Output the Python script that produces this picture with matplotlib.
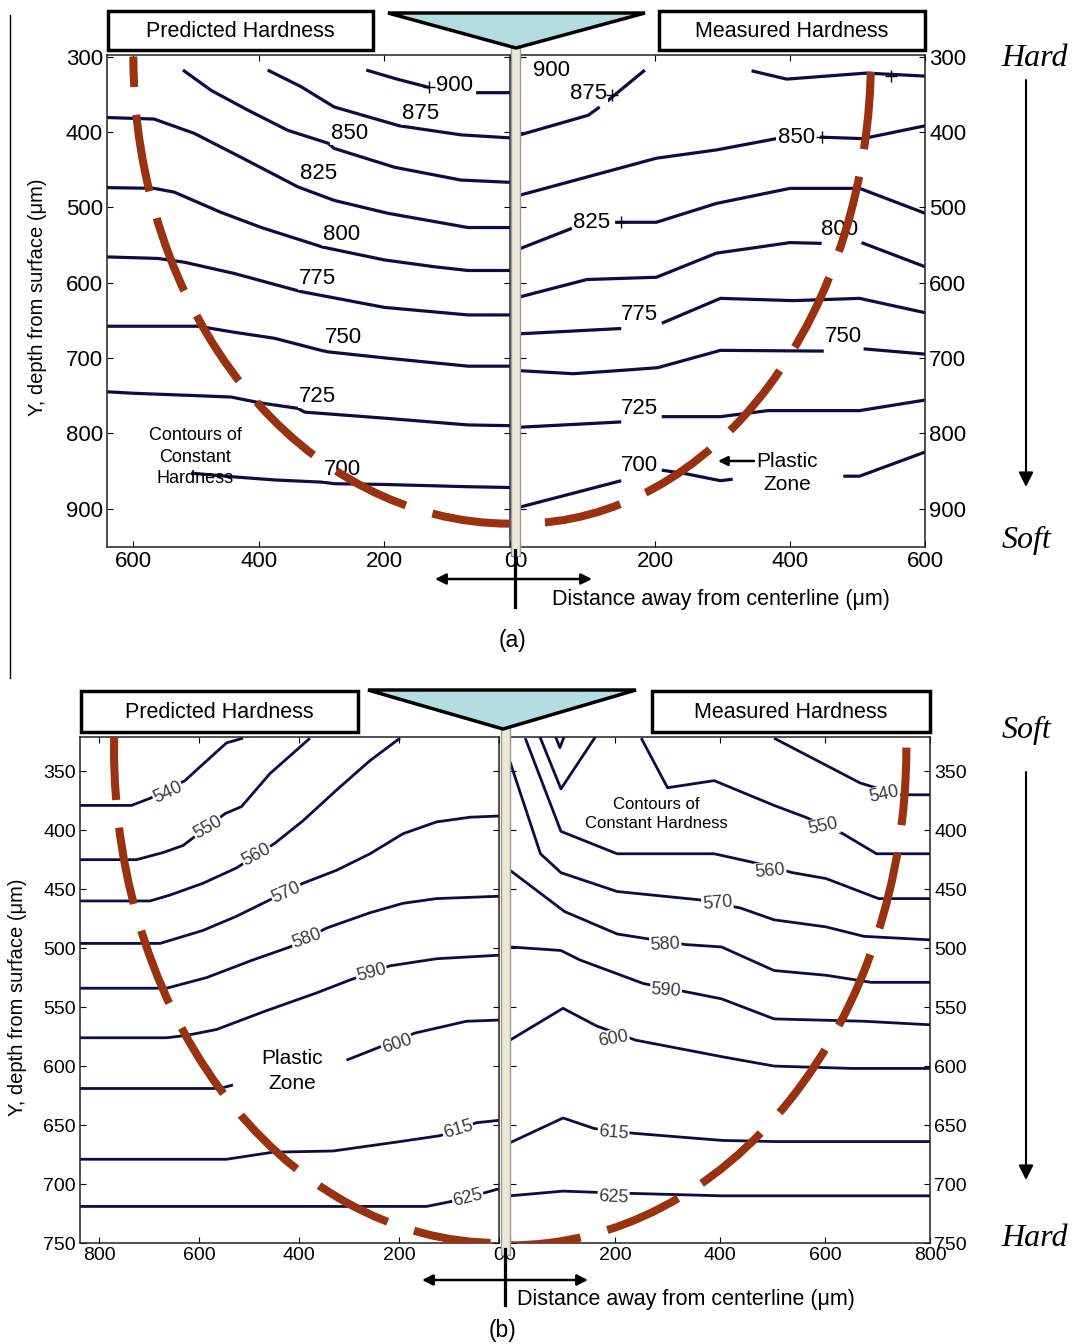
import numpy as np
import matplotlib
matplotlib.use("Agg")
import matplotlib.pyplot as plt
from matplotlib.patches import Arc, Rectangle, Polygon

plt.rcParams['font.family'] = ['Liberation Sans', 'DejaVu Sans']

nan = np.nan

# ---------------- (a) predicted hardness (left half) ----------------
a_pred_levels = [900, 875, 850, 825, 800, 775, 750, 725, 700]
a_pred_x = [
    [229, 180, 129, nan, 54, 0],
    [386, 333, 280, 176, 78, 0],
    [521, 476, 418, 354, 290, 280, 184, 78, 0],
    [642, 567, 503, 428, 338, 280, 195, 67, 0],
    [642, 567, 535, 460, 396, 298, 200, 121, 67, 0],
    [642, 561, 519, 439, 333, 200, 67, 0],
    [642, 497, 439, 375, 301, 290, 200, 67, 0],
    [642, 599, 503, 444, 396, 338, 327, 200, 67, 0],
    [508, 439, 375, 298, 280, 200, 67, 0],
]
a_pred_y = [
    [318, 330, 341, nan, 348, 348],
    [318, 340, 367, 392, 404, 408],
    [318, 345, 371, 398, 415, 422, 447, 464, 467],
    [381, 383, 402, 434, 473, 491, 508, 527, 527],
    [474, 475, 480, 507, 527, 553, 570, 579, 584, 584],
    [566, 568, 573, 588, 612, 633, 643, 643],
    [658, 658, 666, 674, 690, 692, 700, 711, 711],
    [745, 747, 750, 752, 760, 767, 772, 780, 789, 790],
    [853, 858, 862, 865, 867, 868, 871, 872],
]
a_pred_lab_x = [89, 143, 256, 305, 268, 306, 266, 306, 267]
a_pred_lab_y = [338, 375, 402, 455, 536, 594, 673, 751, 848]
a_pred_plus_x = [129]
a_pred_plus_y = [341]

# ---------------- (a) measured hardness (right half) ----------------
a_meas_levels = [900, 875, 850, 825, 800, 775, 750, 725, 700]
a_meas_x = [
    [],
    [0, 101, 118, nan, 128, 185, nan, 343, 395, 513, 600],
    [0, 99, 202, 291, 380, nan, 444, 508, 600],
    [0, 77, nan, 141, 202, 291, 400, 503, 600],
    [0, 99, 202, 291, 400, 447, nan, 506, 600],
    [0, 150, nan, 210, 297, 405, 503, 600],
    [0, 79, 144, 204, 297, 450, nan, 509, 600],
    [0, 150, nan, 210, 297, 367, 450, 503, 600],
    [0, 150, nan, 210, 247, 297, 315, nan, 479, 503, 600],
]
a_meas_y = [
    [],
    [404, 378, 367, nan, 360, 318, nan, 319, 330, 322, 326],
    [484, 460, 435, 424, 409, nan, 407, 409, 392],
    [555, 528, nan, 520, 520, 495, 475, 475, 508],
    [619, 596, 593, 561, 547, 548, nan, 547, 579],
    [668, 661, nan, 654, 621, 624, 621, 640],
    [717, 721, 717, 713, 690, 691, nan, 688, 695],
    [792, 785, nan, 778, 778, 770, 770, 770, 756],
    [898, 863, nan, 849, 854, 863, 861, nan, 857, 857, 825],
]
a_meas_lab_x = [47, 101, 409, 106, 474, 177, 479, 177, 177]
a_meas_lab_y = [318, 349, 407, 520, 530, 643, 672, 767, 843]
a_meas_plus_x = [136, 447, 150, 549]
a_meas_plus_y = [351, 407, 520, 326]

# ---------------- (b) predicted hardness (left half) ----------------
b_pred_levels = [540, 550, 560, 570, 580, 590, 600, 615, 625]
b_pred_x = [
    [838, 735, 698, 628, 605, 545, 512],
    [838, 725, 672, 632, 548, 515, 458, 378],
    [838, 698, 658, 592, 525, 448, 392, 325, 258, 198],
    [838, 678, 592, 525, 458, 392, 325, 258, 192, 125, 58, 0],
    [838, 665, 585, 492, 418, 345, 258, 192, 125, 0],
    [838, 665, 625, 565, 465, 365, 298, 218, 125, 0],
    [838, 558, 532, nan, 305, 168, 65, 0],
    [838, 545, 452, 332, 198, 118, 45, 0],
    [838, 145, 98, 25, 0],
]
b_pred_y = [
    [379, 379, 373, 358, 349, 326, 322],
    [425, 425, 419, 413, 386, 380, 352, 322],
    [460, 460, 455, 445, 432, 411, 392, 366, 341, 322],
    [496, 496, 485, 473, 459, 445, 434, 420, 403, 393, 389, 388],
    [534, 534, 525, 510, 499, 483, 470, 462, 458, 456],
    [576, 576, 574, 569, 553, 538, 527, 515, 509, 506],
    [619, 619, 616, nan, 595, 572, 562, 561],
    [679, 679, 673, 672, 664, 659, 648, 646],
    [719, 719, 715, 707, 704],
]
b_pred_lab_x = [662, 582, 485, 425, 385, 255, 204, 82, 62]
b_pred_lab_y = [368, 398, 421, 453, 492, 521, 581, 654, 712]
b_pred_lab_rot = [25, 30, 28, 24, 20, 15, 18, 16, 14]

# ---------------- (b) measured hardness (right half) ----------------
b_meas_levels = [540, 550, 560, 570, 580, 590, 600, 615, 625]
b_meas_x = [
    [503, 667, 741, 800],
    [250, 300, 389, 503, 563, 634, 698, 800],
    [29, 97, 204, 389, 460, 538, 602, 702, 800],
    [0, 58, 97, 204, 360, 439, 503, 602, 674, 800],
    [0, 104, 204, 261, 335, 403, 503, 602, 688, 800],
    [0, 97, 133, 254, 335, 403, 503, 674, 800],
    [0, 101, 165, 239, 403, 503, 652, 800],
    [0, 101, 161, 236, 403, 503, 800],
    [0, 101, 161, 236, 403, 800],
]
b_meas_y = [
    [322, 360, 370, 370],
    [322, 364, 358, 379, 389, 403, 420, 420],
    [322, 401, 420, 420, 427, 436, 441, 458, 458],
    [342, 420, 436, 452, 459, 466, 476, 482, 490, 493],
    [434, 469, 488, 492, 497, 499, 519, 523, 529, 529],
    [499, 502, 510, 530, 537, 543, 560, 562, 565],
    [578, 551, 566, 578, 592, 600, 602, 602],
    [665, 644, 653, 657, 663, 664, 664],
    [710, 706, 707, 708, 710, 710],
]
b_meas_lab_x = [712, 597, 496, 395, 296, 297, 197, 197, 197]
b_meas_lab_y = [370, 397, 435, 462, 497, 536, 577, 657, 711]
b_meas_lab_rot = [12, 12, 5, 5, 3, -4, 10, -5, -3]
# closed little loops near the top of the measured field
b_meas_extra_x = [[58, 97, 161], [88, 95, 102]]
b_meas_extra_y = [[322, 365, 322], [322, 330, 322]]

# plastic zone boundaries (centre depth, half-width, half-height)
zone_a_yc, zone_a_pred, zone_a_meas = 300, (600, 620), (520, 620)
zone_b_yc, zone_b_pred, zone_b_meas = 330, (770, 420), (755, 422)

NAVY = '#0c0c48'
RED = '#983211'
ZONE_LW = 5.8
W, H = 1073, 1344

fig = plt.figure(figsize=(W / 100, H / 100), dpi=100)


def px_axes(x0, y0, x1, y1):
    return fig.add_axes([x0 / W, 1 - y1 / H, (x1 - x0) / W, (y1 - y0) / H])


def style(ax, fs, right=False):
    ax.tick_params(direction='in', length=4, width=0.8, top=True, bottom=True,
                   left=True, right=True, labelsize=fs, pad=3)
    if right:
        ax.tick_params(labelleft=False, labelright=True)
    for s in ax.spines.values():
        s.set_linewidth(1.1)
        s.set_color('#222222')


def draw_field(ax, xs, ys, levels, lx, ly, rot, lw, fs, tcol):
    for x, y in zip(xs, ys):
        if len(x):
            ax.plot(np.array(x, float), np.array(y, float), color=NAVY, lw=lw,
                    solid_capstyle='butt', zorder=2)
    for lev, x, y, r in zip(levels, lx, ly, rot):
        ax.text(x, y, str(lev), fontsize=fs, color=tcol, rotation=r,
                ha='center', va='center', rotation_mode='anchor', zorder=3,
                bbox=dict(boxstyle='square,pad=0.05', fc='white', ec='none'))


def zone(ax, yc, r, theta1, offset_pt, on_pt, off_pt):
    pat = (offset_pt / ZONE_LW, (on_pt / ZONE_LW, off_pt / ZONE_LW))
    ax.add_patch(Arc((0, yc), 2 * r[0], 2 * r[1], theta1=theta1, theta2=90,
                     color=RED, lw=ZONE_LW, linestyle=pat, zorder=4))


# ---- panel (a) ----
ax1 = px_axes(107, 55, 510, 547)
ax1.set_xlim(642, 0)
ax1.set_ylim(951, 298)
ax1.set_xticks([600, 400, 200, 0])
ax1.set_yticks(range(300, 1000, 100))
style(ax1, 16)
draw_field(ax1, a_pred_x, a_pred_y, a_pred_levels, a_pred_lab_x, a_pred_lab_y,
           [0] * 9, 2.3, 16, 'black')
ax1.plot(a_pred_plus_x, a_pred_plus_y, '+', color='k', ms=8, mew=1, zorder=3)
zone(ax1, zone_a_yc, zone_a_pred, 0, 34, 56, 20)

ax2 = px_axes(520, 55, 925, 547)
ax2.set_xlim(0, 600)
ax2.set_ylim(951, 298)
ax2.set_xticks([0, 200, 400, 600])
ax2.set_yticks(range(300, 1000, 100))
style(ax2, 16, right=True)
draw_field(ax2, a_meas_x, a_meas_y, a_meas_levels, a_meas_lab_x, a_meas_lab_y,
           [0] * 9, 2.3, 16, 'black')
ax2.plot(a_meas_plus_x, a_meas_plus_y, '+', color='k', ms=8, mew=1, zorder=3)
zone(ax2, zone_a_yc, zone_a_meas, 0, 65, 56, 20)

# ---- panel (b) ----
ax3 = px_axes(80, 737, 499, 1243)
ax3.set_xlim(838, 0)
ax3.set_ylim(750, 321)
ax3.set_xticks([800, 600, 400, 200, 0])
ax3.set_yticks(range(350, 800, 50))
style(ax3, 14)
draw_field(ax3, b_pred_x, b_pred_y, b_pred_levels, b_pred_lab_x, b_pred_lab_y,
           b_pred_lab_rot, 2.0, 13, '#3a3a3a')
zone(ax3, zone_b_yc, zone_b_pred, -1.6, 0, 56, 20)

ax4 = px_axes(510, 737, 930, 1243)
ax4.set_xlim(0, 800)
ax4.set_ylim(750, 321)
ax4.set_xticks([0, 200, 400, 600, 800])
ax4.set_yticks(range(350, 800, 50))
style(ax4, 14, right=True)
draw_field(ax4, b_meas_x, b_meas_y, b_meas_levels, b_meas_lab_x, b_meas_lab_y,
           b_meas_lab_rot, 2.0, 13, '#3a3a3a')
for x, y in zip(b_meas_extra_x, b_meas_extra_y):
    ax4.plot(x, y, color=NAVY, lw=2.0, zorder=2)
zone(ax4, zone_b_yc, zone_b_meas, 0, 0, 56, 20)

# ---- overlay in pixel coordinates ----
ov = fig.add_axes([0, 0, 1, 1], zorder=10)
ov.set_xlim(0, W)
ov.set_ylim(H, 0)
ov.axis('off')


def box(x, y, w, h, s):
    ov.add_patch(Rectangle((x, y), w, h, fc='white', ec='black', lw=2.5))
    ov.text(x + w / 2, y + h / 2 + 1, s, ha='center', va='center', fontsize=15.5)


def indenter(pts):
    ov.add_patch(Polygon(pts, closed=True, fc='#b4dde1', ec='black', lw=2.5,
                         joinstyle='miter'))


def centre(x, y0, y1, y2, ay, ax0, ax1_):
    ov.add_patch(Rectangle((x - 4, y0), 8.5, y1 - y0, fc='#ebe8d6', ec='#9a9a9a', lw=1))
    ov.plot([x, x], [y1 - 6, y2], color='black', lw=2.3)
    ov.annotate('', xy=(ax0, ay), xytext=(ax1_, ay),
                arrowprops=dict(arrowstyle='<|-|>', color='black', lw=1.8,
                                mutation_scale=16, shrinkA=0, shrinkB=0))


def scale_arrow(x, y0, y1):
    ov.annotate('', xy=(x, y1), xytext=(x, y0),
                arrowprops=dict(arrowstyle='-|>', color='black', lw=1.5,
                                mutation_scale=22, shrinkA=0, shrinkB=0))


serif = dict(family='Liberation Serif', style='italic', fontsize=23,
             ha='center', va='center')

# (a)
box(108, 11, 265, 39, 'Predicted Hardness')
box(659, 11, 266, 39, 'Measured Hardness')
centre(515, 44, 556, 607, 579, 435, 592)
indenter([(388, 13), (645, 13), (516, 48)])
ov.text(721, 600, 'Distance away from centerline (μm)', ha='center', va='center', fontsize=15.5)
ov.text(38, 297, 'Y, depth from surface (μm)', ha='center', va='center', fontsize=14.5, rotation=90)
ov.text(512, 640, '(a)', ha='center', va='center', fontsize=16.5)
ov.text(1035, 58, 'Hard', **serif)
ov.text(1027, 540, 'Soft', **serif)
scale_arrow(1026, 80, 487)
ov.plot([10, 10], [15, 678], color='black', lw=1)
ov.text(195, 457, 'Contours of\nConstant\nHardness', ha='center', va='center',
        fontsize=13, linespacing=1.32)
ov.text(787, 473, 'Plastic\nZone', ha='center', va='center', fontsize=15, linespacing=1.32)
ov.annotate('', xy=(718, 461), xytext=(754, 461),
            arrowprops=dict(arrowstyle='-|>', color='black', lw=1.8,
                            mutation_scale=14, shrinkA=0, shrinkB=0))

# (b)
box(81, 691, 277, 41, 'Predicted Hardness')
box(652, 691, 278, 41, 'Measured Hardness')
centre(505, 726, 1255, 1305, 1280, 422, 588)
indenter([(368, 690), (636, 690), (503, 729)])
ov.text(686, 1299, 'Distance away from centerline (μm)', ha='center', va='center', fontsize=15.5)
ov.text(18, 997, 'Y, depth from surface (μm)', ha='center', va='center', fontsize=14.5, rotation=90)
ov.text(503, 1330, '(b)', ha='center', va='center', fontsize=16.5)
ov.text(1027, 730, 'Soft', **serif)
ov.text(1035, 1238, 'Hard', **serif)
scale_arrow(1026, 772, 1180)
ov.text(656, 814, 'Contours of\nConstant Hardness', ha='center', va='center',
        fontsize=12, linespacing=1.3)
ov.text(292, 1071, 'Plastic\nZone', ha='center', va='center', fontsize=15, linespacing=1.35)

fig.savefig('out.png', dpi=100)
